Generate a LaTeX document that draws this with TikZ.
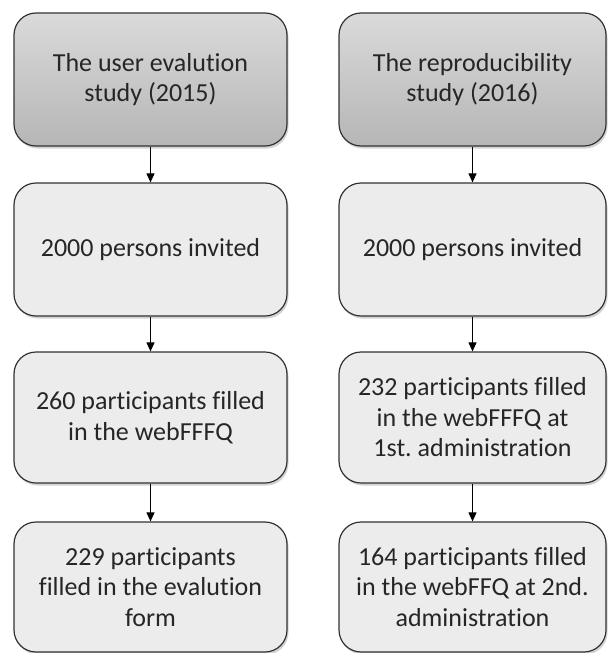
\documentclass[tikz,border=0pt]{standalone}
\usepackage{fontspec}
\setmainfont{Carlito}[Ligatures={NoCommon}]
\usetikzlibrary{arrows.meta, shadows}
\frenchspacing
\definecolor{boxgray}{RGB}{236,236,236}
\definecolor{studytop}{RGB}{218,218,218}
\definecolor{studybottom}{RGB}{182,182,182}
\definecolor{edgegray}{RGB}{50,50,50}

\tikzset{
  stagebox/.style={draw=edgegray, line width=1.2pt, rounded corners=22pt, fill=boxgray,
    align=center, inner sep=0pt, text=black!85, font=\fontsize{26}{30.5}\selectfont,
    drop shadow={shadow xshift=1.5pt, shadow yshift=-2.5pt, opacity=0.35}},
  studybox/.style={stagebox, top color=studytop, bottom color=studybottom},
  flow/.style={-{Triangle[length=9pt, width=8pt]}, line width=1pt}
}

\begin{document}
\begin{tikzpicture}[x=1pt, y=-1pt]
	\useasboundingbox (0,0) rectangle (608,653);

	% evaluation study
	\node [studybox, minimum width=273pt, minimum height=133pt] (evalstudy) at (150.5,79.5) {The user evalution\\study (2015)};
	\node [stagebox, minimum width=273pt, minimum height=133pt] (evalinvite) at (150.5,249.5) {2000 persons invited};
	\node [stagebox, minimum width=273pt, minimum height=131pt] (evalfill) at (150.5,417.5) {260 participants filled\\in the webFFFQ};
	\node [stagebox, minimum width=273pt, minimum height=130pt] (evalform) at (150.5,587) {229 participants\\filled in the evalution\\form};

	% reproducibility study
	\node [studybox, minimum width=267pt, minimum height=133pt] (repstudy) at (472.5,79.5) {The reproducibility\\study (2016)};
	\node [stagebox, minimum width=267pt, minimum height=133pt] (repinvite) at (472.5,249.5) {2000 persons invited};
	\node [stagebox, minimum width=267pt, minimum height=131pt] (repfirst) at (472.5,417.5) {232 participants filled\\in the webFFFQ at\\1st. administration};
	\node [stagebox, minimum width=267pt, minimum height=130pt] (repsecond) at (472.5,587) {164 participants filled\\in the webFFQ at 2nd.\\administration};

	\draw [flow] (evalstudy) -- (evalinvite);
	\draw [flow] (evalinvite) -- (evalfill);
	\draw [flow] (evalfill) -- (evalform);
	\draw [flow] (repstudy) -- (repinvite);
	\draw [flow] (repinvite) -- (repfirst);
	\draw [flow] (repfirst) -- (repsecond);
\end{tikzpicture}
\end{document}
